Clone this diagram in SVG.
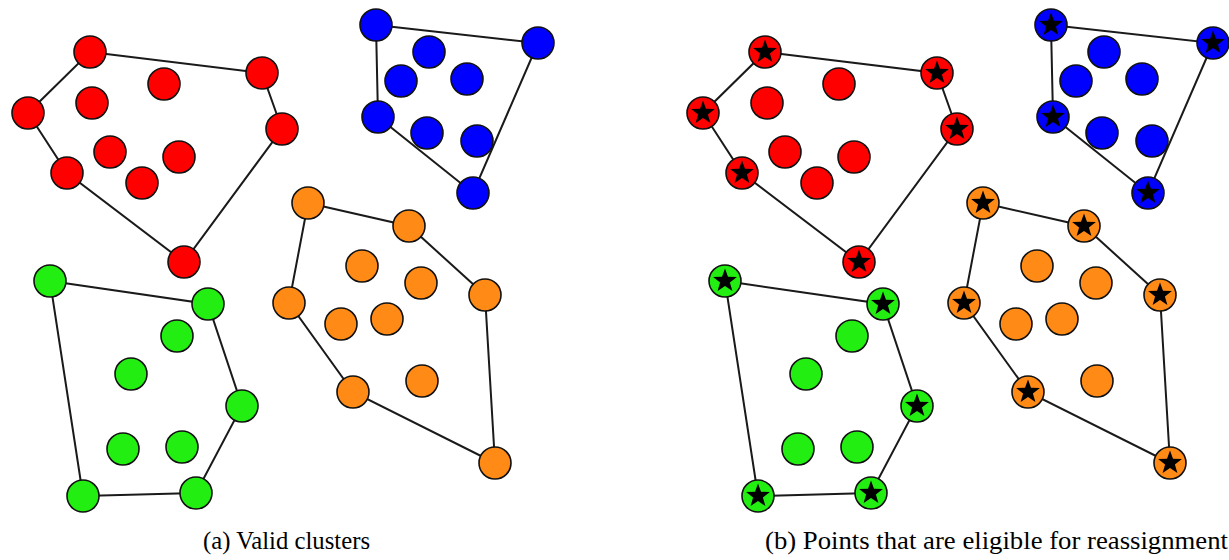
<svg xmlns="http://www.w3.org/2000/svg" xmlns:xlink="http://www.w3.org/1999/xlink" width="1229" height="560" viewBox="0 0 1229 560">
<style>
.hull{fill:none;stroke:#1a1a1a;stroke-width:2}
circle{stroke:#111;stroke-width:1.6}
.r{fill:#ff0000}.b{fill:#0000ff}.g{fill:#22ee11}.o{fill:#ff8a16}
.cap{font-size:25px;fill:#000}
</style>
<defs>
<path id="star" d="M0,-12.5 L3,-4.2 L11.9,-3.9 L4.9,1.6 L7.4,10.1 L0,5.1 L-7.4,10.1 L-4.9,1.6 L-11.9,-3.9 L-3,-4.2 Z" fill="#000"/>
</defs>
<rect width="1229" height="560" fill="#fff"/>
<!-- Panel (a) -->
<g id="panel-a">
<g id="connectors-a">
<polygon class="hull" points="90,52 262,73 282,129 184,262 67,173 28,113"/>
<polygon class="hull" points="376,25 538,43 473,193 378,117"/>
<polygon class="hull" points="50,281 208,304 242,406 196,493 83,496"/>
<polygon class="hull" points="308,203 409,226 485,295 495,463 353,392 289,303"/>
</g>
<g id="a-red">
<circle class="r" cx="90" cy="52" r="16"/><circle class="r" cx="262" cy="73" r="16"/><circle class="r" cx="282" cy="129" r="16"/><circle class="r" cx="184" cy="262" r="16"/><circle class="r" cx="67" cy="173" r="16"/><circle class="r" cx="28" cy="113" r="16"/>
<circle class="r" cx="164" cy="84" r="16"/><circle class="r" cx="92" cy="103" r="16"/><circle class="r" cx="110" cy="152" r="16"/><circle class="r" cx="179" cy="157" r="16"/><circle class="r" cx="142" cy="183" r="16"/>
</g>
<g id="a-blue">
<circle class="b" cx="376" cy="25" r="16"/><circle class="b" cx="538" cy="43" r="16"/><circle class="b" cx="473" cy="193" r="16"/><circle class="b" cx="378" cy="117" r="16"/>
<circle class="b" cx="429" cy="52" r="16"/><circle class="b" cx="401" cy="81" r="16"/><circle class="b" cx="467" cy="79" r="16"/><circle class="b" cx="427" cy="133" r="16"/><circle class="b" cx="477" cy="141" r="16"/>
</g>
<g id="a-green">
<circle class="g" cx="50" cy="281" r="16"/><circle class="g" cx="208" cy="304" r="16"/><circle class="g" cx="242" cy="406" r="16"/><circle class="g" cx="196" cy="493" r="16"/><circle class="g" cx="83" cy="496" r="16"/>
<circle class="g" cx="177" cy="336" r="16"/><circle class="g" cx="131" cy="374" r="16"/><circle class="g" cx="123" cy="449" r="16"/><circle class="g" cx="182" cy="447" r="16"/>
</g>
<g id="a-orange">
<circle class="o" cx="308" cy="203" r="16"/><circle class="o" cx="409" cy="226" r="16"/><circle class="o" cx="485" cy="295" r="16"/><circle class="o" cx="495" cy="463" r="16"/><circle class="o" cx="353" cy="392" r="16"/><circle class="o" cx="289" cy="303" r="16"/>
<circle class="o" cx="362" cy="266" r="16"/><circle class="o" cx="421" cy="283" r="16"/><circle class="o" cx="341" cy="324" r="16"/><circle class="o" cx="387" cy="319" r="16"/><circle class="o" cx="422" cy="381" r="16"/>
</g>
<text id="caption-a" class="cap" font-family="Liberation Serif, serif" x="203" y="549" textLength="167" lengthAdjust="spacingAndGlyphs">(a) Valid clusters</text>
</g>
<!-- Panel (b) -->
<g id="panel-b">
<g id="connectors-b" transform="translate(675,0)">
<polygon class="hull" points="90,52 262,73 282,129 184,262 67,173 28,113"/>
<polygon class="hull" points="376,25 538,43 473,193 378,117"/>
<polygon class="hull" points="50,281 208,304 242,406 196,493 83,496"/>
<polygon class="hull" points="308,203 409,226 485,295 495,463 353,392 289,303"/>
</g>
<g id="b-red" transform="translate(675,0)">
<circle class="r" cx="164" cy="84" r="16"/><circle class="r" cx="92" cy="103" r="16"/><circle class="r" cx="110" cy="152" r="16"/><circle class="r" cx="179" cy="157" r="16"/><circle class="r" cx="142" cy="183" r="16"/>
<circle class="r" cx="90" cy="52" r="16"/><use href="#star" x="90" y="52"/>
<circle class="r" cx="262" cy="73" r="16"/><use href="#star" x="262" y="73"/>
<circle class="r" cx="282" cy="129" r="16"/><use href="#star" x="282" y="129"/>
<circle class="r" cx="184" cy="262" r="16"/><use href="#star" x="184" y="262"/>
<circle class="r" cx="67" cy="173" r="16"/><use href="#star" x="67" y="173"/>
<circle class="r" cx="28" cy="113" r="16"/><use href="#star" x="28" y="113"/>
</g>
<g id="b-blue" transform="translate(675,0)">
<circle class="b" cx="429" cy="52" r="16"/><circle class="b" cx="401" cy="81" r="16"/><circle class="b" cx="467" cy="79" r="16"/><circle class="b" cx="427" cy="133" r="16"/><circle class="b" cx="477" cy="141" r="16"/>
<circle class="b" cx="376" cy="25" r="16"/><use href="#star" x="376" y="25"/>
<circle class="b" cx="538" cy="43" r="16"/><use href="#star" x="538" y="43"/>
<circle class="b" cx="473" cy="193" r="16"/><use href="#star" x="473" y="193"/>
<circle class="b" cx="378" cy="117" r="16"/><use href="#star" x="378" y="117"/>
</g>
<g id="b-green" transform="translate(675,0)">
<circle class="g" cx="177" cy="336" r="16"/><circle class="g" cx="131" cy="374" r="16"/><circle class="g" cx="123" cy="449" r="16"/><circle class="g" cx="182" cy="447" r="16"/>
<circle class="g" cx="50" cy="281" r="16"/><use href="#star" x="50" y="281"/>
<circle class="g" cx="208" cy="304" r="16"/><use href="#star" x="208" y="304"/>
<circle class="g" cx="242" cy="406" r="16"/><use href="#star" x="242" y="406"/>
<circle class="g" cx="196" cy="493" r="16"/><use href="#star" x="196" y="493"/>
<circle class="g" cx="83" cy="496" r="16"/><use href="#star" x="83" y="496"/>
</g>
<g id="b-orange" transform="translate(675,0)">
<circle class="o" cx="362" cy="266" r="16"/><circle class="o" cx="421" cy="283" r="16"/><circle class="o" cx="341" cy="324" r="16"/><circle class="o" cx="387" cy="319" r="16"/><circle class="o" cx="422" cy="381" r="16"/>
<circle class="o" cx="308" cy="203" r="16"/><use href="#star" x="308" y="203"/>
<circle class="o" cx="409" cy="226" r="16"/><use href="#star" x="409" y="226"/>
<circle class="o" cx="485" cy="295" r="16"/><use href="#star" x="485" y="295"/>
<circle class="o" cx="495" cy="463" r="16"/><use href="#star" x="495" y="463"/>
<circle class="o" cx="353" cy="392" r="16"/><use href="#star" x="353" y="392"/>
<circle class="o" cx="289" cy="303" r="16"/><use href="#star" x="289" y="303"/>
</g>
<text id="caption-b" class="cap" font-family="Liberation Serif, serif" x="765" y="549" textLength="463" lengthAdjust="spacingAndGlyphs">(b) Points that are eligible for reassignment</text>
</g>
</svg>
